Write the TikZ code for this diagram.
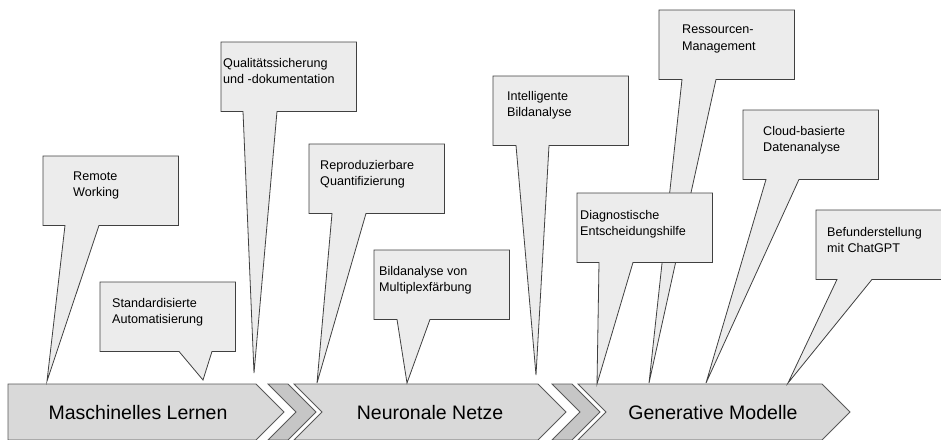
\documentclass[tikz,border=0pt]{standalone}
\usepackage{fontspec}
\setmainfont{Liberation Sans}
\usepackage{xcolor}

\definecolor{bubblefill}{HTML}{ECECEC}
\definecolor{bubbleline}{HTML}{404040}
\definecolor{chevfill}{HTML}{D9D9D9}
\definecolor{chevdark}{HTML}{C6C6C6}
\definecolor{chevline}{HTML}{595959}

\begin{document}
\begin{tikzpicture}[
  x=1pt, y=-1pt,
  bubble/.style={draw=bubbleline, fill=bubblefill, line width=0.8pt},
  box/.style={anchor=north west, minimum width=135pt, minimum height=69pt,
              inner sep=0pt},
  txt/.style={anchor=north west, inner sep=0pt, align=left,
              font=\fontsize{12.6}{16.5}\selectfont},
  chev/.style={draw=chevline, fill=chevfill, line width=0.75pt},
  sepchev/.style={draw=chevline, fill=chevdark, line width=0.75pt},
  phase/.style={anchor=base, inner sep=0pt, font=\fontsize{19.5}{23}\selectfont}
]
\useasboundingbox (0,0) rectangle (941,439);
\clip (0,0) rectangle (941,439);

% ---- Chevrons ----
\draw[chev] (8,384) -- (256,384) -- (284,412) -- (256,440) -- (8,440) -- cycle;
\draw[sepchev] (268,384) -- (288,384) -- (316,412) -- (288,440) -- (268,440) -- (296,412) -- cycle;
\draw[chev] (294,384) -- (538,384) -- (566,412) -- (538,440) -- (294,440) -- (322,412) -- cycle;
\draw[sepchev] (552,384) -- (572,384) -- (600,412) -- (572,440) -- (552,440) -- (580,412) -- cycle;
\draw[chev] (578,384) -- (822,384) -- (850,412) -- (822,440) -- (578,440) -- (606,412) -- cycle;

\node[phase] (ml) at (138,419) {Maschinelles Lernen};
\node[phase] (nn) at (430,419) {Neuronale Netze};
\node[phase] (gm) at (713,419) {Generative Modelle};

% ---- Callouts: Maschinelles Lernen ----
\node[box] (remote) at (43,156) {};
\coordinate (remote-tip) at (47,381);
\draw[bubble] (remote.north west) -- (remote.north east) -- (remote.south east)
  -- ([xshift=56pt]remote.south west) -- (remote-tip)
  -- ([xshift=22pt]remote.south west) -- (remote.south west) -- cycle;
\node[txt] (remote-t) at ([xshift=30pt, yshift=-15.5pt]remote.north west) {Remote\\Working};

\node[box] (stand) at (100,282) {};
\coordinate (stand-tip) at (203,380);
\draw[bubble] (stand.north west) -- (stand.north east) -- (stand.south east)
  -- ([xshift=112pt]stand.south west) -- (stand-tip)
  -- ([xshift=79pt]stand.south west) -- (stand.south west) -- cycle;
\node[txt] (stand-t) at ([xshift=12pt, yshift=-16pt]stand.north west) {Standardisierte\\Automatisierung};

\node[box] (quali) at (221,42) {};
\coordinate (quali-tip) at (254,373);
\draw[bubble] (quali.north west) -- (quali.north east) -- (quali.south east)
  -- ([xshift=56pt]quali.south west) -- (quali-tip)
  -- ([xshift=22pt]quali.south west) -- (quali.south west) -- cycle;
\node[txt] (quali-t) at ([xshift=2pt, yshift=-16pt]quali.north west) {Qualitätssicherung\\und -dokumentation};

% ---- Callouts: Neuronale Netze ----
\node[box] (repro) at (309,144) {};
\coordinate (repro-tip) at (317,383);
\draw[bubble] (repro.north west) -- (repro.north east) -- (repro.south east)
  -- ([xshift=57pt]repro.south west) -- (repro-tip)
  -- ([xshift=23pt]repro.south west) -- (repro.south west) -- cycle;
\node[txt] (repro-t) at ([xshift=11pt, yshift=-16pt]repro.north west) {Reproduzierbare\\Quantifizierung};

\node[box] (multi) at (374,250) {};
\coordinate (multi-tip) at (407,383);
\draw[bubble] (multi.north west) -- (multi.north east) -- (multi.south east)
  -- ([xshift=56pt]multi.south west) -- (multi-tip)
  -- ([xshift=23pt]multi.south west) -- (multi.south west) -- cycle;
\node[txt] (multi-t) at ([xshift=5pt, yshift=-16pt]multi.north west) {Bildanalyse von\\Multiplexfärbung};

\node[box] (intel) at (493,76) {};
\coordinate (intel-tip) at (536,375);
\draw[bubble] (intel.north west) -- (intel.north east) -- (intel.south east)
  -- ([xshift=56pt]intel.south west) -- (intel-tip)
  -- ([xshift=23pt]intel.south west) -- (intel.south west) -- cycle;
\node[txt] (intel-t) at ([xshift=14pt, yshift=-15pt]intel.north west) {Intelligente\\Bildanalyse};

% ---- Callouts: Generative Modelle ----
\node[box] (ress) at (659,10) {};
\coordinate (ress-tip) at (649,383);
\draw[bubble] (ress.north west) -- (ress.north east) -- (ress.south east)
  -- ([xshift=57pt]ress.south west) -- (ress-tip)
  -- ([xshift=23pt]ress.south west) -- (ress.south west) -- cycle;
\node[txt] (ress-t) at ([xshift=23pt, yshift=-15pt]ress.north west) {Ressourcen-\\Management};

\node[box] (cloud) at (743,110) {};
\coordinate (cloud-tip) at (706,383);
\draw[bubble] (cloud.north west) -- (cloud.north east) -- (cloud.south east)
  -- ([xshift=56pt]cloud.south west) -- (cloud-tip)
  -- ([xshift=23pt]cloud.south west) -- (cloud.south west) -- cycle;
\node[txt] (cloud-t) at ([xshift=20pt, yshift=-16pt]cloud.north west) {Cloud-basierte\\Datenanalyse};

\node[box] (diag) at (577,193) {};
\coordinate (diag-tip) at (597,384);
\draw[bubble] (diag.north west) -- (diag.north east) -- (diag.south east)
  -- ([xshift=56pt]diag.south west) -- (diag-tip)
  -- ([xshift=22pt]diag.south west) -- (diag.south west) -- cycle;
\node[txt] (diag-t) at ([xshift=3pt, yshift=-17pt]diag.north west) {Diagnostische\\Entscheidungshilfe};

\node[box] (befund) at (816,210) {};
\coordinate (befund-tip) at (788,383);
\draw[bubble] (befund.north west) -- (befund.north east) -- (befund.south east)
  -- ([xshift=56pt]befund.south west) -- (befund-tip)
  -- ([xshift=21pt]befund.south west) -- (befund.south west) -- cycle;
\node[txt] (befund-t) at ([xshift=11pt, yshift=-17pt]befund.north west) {Befunderstellung\\mit ChatGPT};

\end{tikzpicture}
\end{document}
